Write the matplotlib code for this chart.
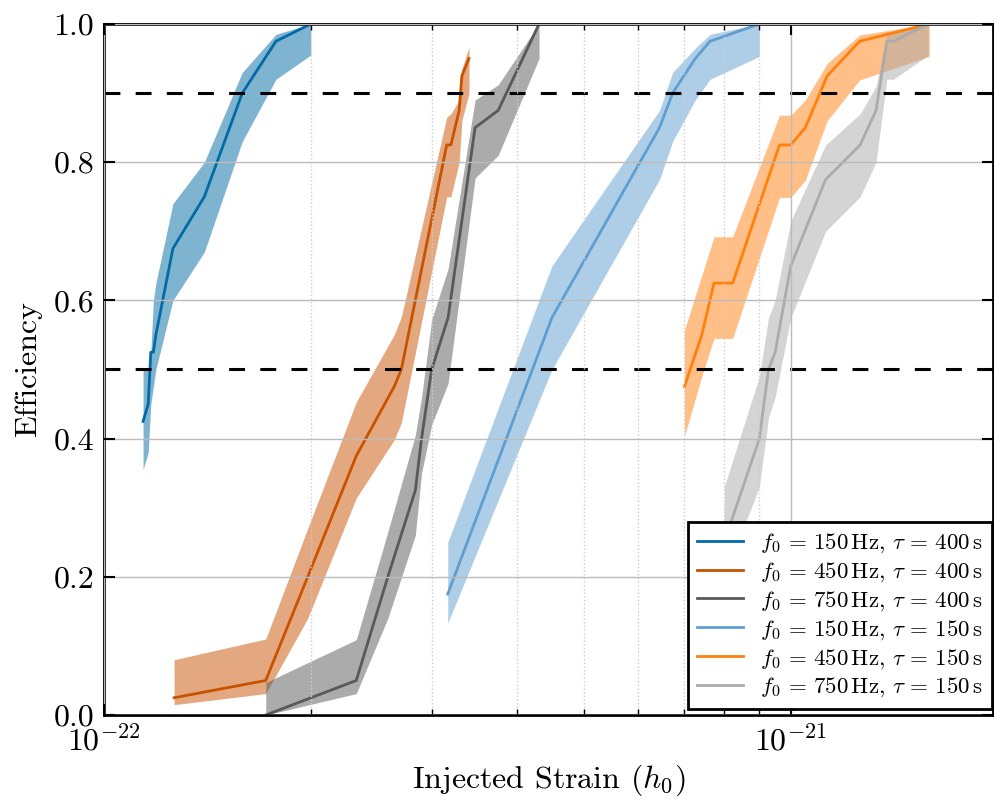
import numpy as np
import matplotlib.pyplot as plt
from matplotlib.ticker import FormatStrFormatter, NullFormatter

plt.rcParams['font.family'] = 'serif'
plt.rcParams['font.serif'] = ['cmr10']
plt.rcParams['mathtext.fontset'] = 'cm'
plt.rcParams['axes.formatter.use_mathtext'] = True

H_UNIT = 1e-22  # strain values below are in units of 1e-22

# f0 = 150 Hz, tau = 400 s
h_150_400 = [1.14, 1.16, 1.17, 1.18, 1.19, 1.26, 1.40, 1.59, 1.78, 2.00]
eff_150_400 = [0.425, 0.45, 0.525, 0.525, 0.55, 0.675, 0.75, 0.90, 0.975, 1.0]
lo_150_400 = [0.355, 0.38, 0.45, 0.475, 0.50, 0.60, 0.67, 0.83, 0.92, 0.955]
hi_150_400 = [0.50, 0.50, 0.525, 0.60, 0.625, 0.74, 0.80, 0.93, 0.985, 1.0]

# f0 = 450 Hz, tau = 400 s
h_450_400 = [1.265, 1.72, 1.98, 2.33, 2.645, 2.71, 3.155, 3.20, 3.29, 3.32, 3.40]
eff_450_400 = [0.025, 0.05, 0.20, 0.375, 0.475, 0.50, 0.825, 0.825, 0.875, 0.925, 0.95]
lo_450_400 = [0.015, 0.031, 0.14, 0.314, 0.398, 0.423, 0.75, 0.75, 0.80, 0.86, 0.90]
hi_450_400 = [0.08, 0.11, 0.27, 0.453, 0.55, 0.576, 0.865, 0.87, 0.89, 0.935, 0.967]

# f0 = 750 Hz, tau = 400 s
h_750_400 = [1.72, 2.33, 2.59, 2.84, 2.90, 3.0, 3.17, 3.47, 3.75, 4.30]
eff_750_400 = [0.0, 0.05, 0.20, 0.325, 0.40, 0.50, 0.575, 0.85, 0.875, 1.0]
lo_750_400 = [0.0, 0.031, 0.14, 0.26, 0.35, 0.42, 0.48, 0.777, 0.81, 0.95]
hi_750_400 = [0.047, 0.109, 0.265, 0.405, 0.46, 0.572, 0.646, 0.89, 0.912, 1.0]

# f0 = 150 Hz, tau = 150 s
h_150_150 = [3.166, 4.49, 6.44, 6.73, 7.26, 7.63, 9.0]
eff_150_150 = [0.175, 0.575, 0.85, 0.90, 0.95, 0.975, 1.0]
lo_150_150 = [0.133, 0.50, 0.775, 0.83, 0.89, 0.92, 0.953]
hi_150_150 = [0.25, 0.65, 0.875, 0.93, 0.965, 0.985, 1.0]

# f0 = 450 Hz, tau = 150 s
h_450_150 = [7.0, 7.42, 7.73, 8.23, 9.63, 10.0, 10.5, 11.3, 12.6, 15.9]
eff_450_150 = [0.475, 0.55, 0.625, 0.625, 0.825, 0.825, 0.85, 0.925, 0.975, 1.0]
lo_450_150 = [0.403, 0.49, 0.545, 0.545, 0.749, 0.749, 0.774, 0.86, 0.919, 0.953]
hi_450_150 = [0.557, 0.636, 0.692, 0.692, 0.868, 0.868, 0.89, 0.943, 0.984, 1.0]

# f0 = 750 Hz, tau = 150 s
h_750_150 = [8.0, 9.0, 9.28, 9.49, 10.0, 11.24, 12.62, 13.31, 13.8, 14.11, 15.86]
eff_750_150 = [0.25, 0.40, 0.50, 0.525, 0.65, 0.775, 0.825, 0.875, 0.975, 0.975, 1.0]
lo_750_150 = [0.20, 0.33, 0.43, 0.46, 0.575, 0.70, 0.75, 0.80, 0.92, 0.92, 0.955]
hi_750_150 = [0.33, 0.49, 0.575, 0.60, 0.715, 0.825, 0.87, 0.91, 0.985, 0.99, 1.0]

series = [
    (h_150_400, eff_150_400, lo_150_400, hi_150_400, '#006BA4', 150, 400),
    (h_450_400, eff_450_400, lo_450_400, hi_450_400, '#C85200', 450, 400),
    (h_750_400, eff_750_400, lo_750_400, hi_750_400, '#595959', 750, 400),
    (h_150_150, eff_150_150, lo_150_150, hi_150_150, '#5F9ED1', 150, 150),
    (h_450_150, eff_450_150, lo_450_150, hi_450_150, '#FF800E', 450, 150),
    (h_750_150, eff_750_150, lo_750_150, hi_750_150, '#ABABAB', 750, 150),
]

fig = plt.figure(figsize=(9.95, 7.99), dpi=100)
ax = fig.add_axes([0.1045, 0.1051, 0.8935, 0.8649])
ax.set_axisbelow(False)

for h, eff, lo, hi, c, f0, tau in series:
    h = np.array(h) * H_UNIT
    ax.fill_between(h, lo, hi, color=c, alpha=0.5, lw=0)
    ax.plot(h, eff, color=c, lw=2,
            label=r'$f_0 \,=\, %d\,\mathrm{Hz},\, \tau \,=\, %d\,\mathrm{s}$' % (f0, tau))

# 50% and 90% detection efficiency
for lvl in [0.5, 0.9]:
    ax.axhline(lvl, color='k', lw=2.2, ls=(0, (5.2, 5.0)))

ax.set_xscale('log')
ax.set_xlim(1e-22, 1.97e-21)
ax.set_ylim(0, 1)
ax.yaxis.set_major_formatter(FormatStrFormatter('%.1f'))
ax.xaxis.set_minor_formatter(NullFormatter())

ax.grid(True, which='major', color='#BBBBBB', lw=1, ls='-')
ax.grid(True, which='minor', axis='x', color='#CCCCCC', lw=1, ls=':')

ax.tick_params(which='both', direction='in', top=True, right=True, labelsize=23)
ax.tick_params(which='major', length=8, width=1.5, pad=7)
ax.tick_params(which='minor', length=4, width=1)
for sp in ax.spines.values():
    sp.set_linewidth(2)

ax.set_xlabel(r'Injected Strain ($h_0$)', fontsize=23, labelpad=4)
ax.set_ylabel('Efficiency', fontsize=23, labelpad=8)

leg = ax.legend(loc='lower right', bbox_to_anchor=(0.999, 0.0094), borderaxespad=0,
                fontsize=16.5, labelspacing=0.22, handlelength=2.0, handletextpad=0.75,
                borderpad=0.4, fancybox=False, framealpha=1, edgecolor='k')
leg.get_frame().set_linewidth(2)

fig.savefig('out.png', dpi=100)
